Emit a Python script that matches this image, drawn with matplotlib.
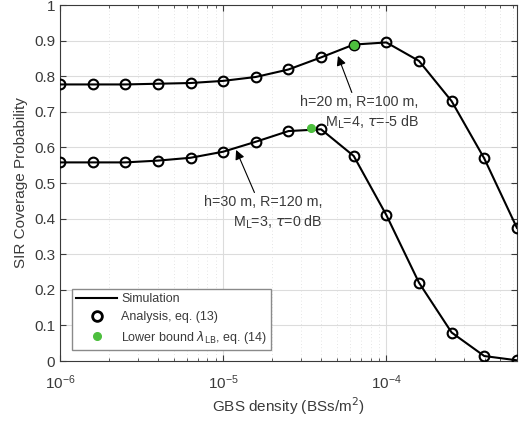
import numpy as np
import matplotlib
matplotlib.use('Agg')
import matplotlib.pyplot as plt
from matplotlib.ticker import LogLocator, NullFormatter

# GBS density grid, 10^-6 ... 10^-3.2
density = 10.0 ** np.array([-6.0, -5.8, -5.6, -5.4, -5.2, -5.0, -4.8, -4.6,
                            -4.4, -4.2, -4.0, -3.8, -3.6, -3.4, -3.2])

cov_h20 = [0.777, 0.777, 0.777, 0.779, 0.781, 0.787, 0.798, 0.819,
           0.853, 0.889, 0.895, 0.843, 0.730, 0.569, 0.374]
cov_h30 = [0.558, 0.558, 0.558, 0.563, 0.571, 0.588, 0.616, 0.646,
           0.651, 0.576, 0.410, 0.220, 0.080, 0.014, 0.002]

lb_density = [6.31e-5, 3.46e-5]
lb_cov = [0.889, 0.655]

y_ticks = [0, 0.1, 0.2, 0.3, 0.4, 0.5, 0.6, 0.7, 0.8, 0.9, 1.0]
y_labels = ['0', '0.1', '0.2', '0.3', '0.4', '0.5', '0.6', '0.7', '0.8', '0.9', '1']

txt = '#3a3a3a'
green = '#4dbf3e'

plt.rcParams['font.family'] = ['Liberation Sans', 'DejaVu Sans']
plt.rcParams['mathtext.fontset'] = 'dejavusans'

fig = plt.figure(figsize=(5.28, 4.22), dpi=100)
ax = fig.add_axes([0.1136, 0.1445, 0.8654, 0.8435])

for cov in (cov_h20, cov_h30):
    ax.plot(density, cov, color='black', lw=1.5, zorder=3)
    ax.plot(density, cov, ls='none', marker='o', ms=7, mfc='none',
            mec='black', mew=1.5, zorder=4)
ax.plot(lb_density, lb_cov, ls='none', marker='o', ms=5.5, color=green,
        zorder=5)

# legend proxies
h_sim, = ax.plot([], [], color='black', lw=1.5)
h_ana, = ax.plot([], [], ls='none', marker='o', ms=7, mfc='none',
                 mec='black', mew=2)
h_lb, = ax.plot([], [], ls='none', marker='o', ms=5.5, color=green)
leg = ax.legend([h_sim, h_ana, h_lb],
                ['Simulation', 'Analysis, eq. (13)',
                 r'Lower bound $\lambda_{\mathrm{LB}}$, eq. (14)'],
                loc='lower left', bbox_to_anchor=(0.026, 0.031),
                borderaxespad=0, fontsize=9, fancybox=False, framealpha=1,
                edgecolor='#8a8a8a', handlelength=3.3, borderpad=0.35,
                labelspacing=0.45, handletextpad=0.3)
leg.get_frame().set_linewidth(1.0)
for t in leg.get_texts():
    t.set_color(txt)

ax.annotate('h=20 m, R=100 m,\nM$_\\mathrm{L}$=4, $\\tau$=-5 dB',
            xy=(5.05e-5, 0.857), xytext=(1.58e-4, 0.697),
            ha='right', va='center', multialignment='right',
            fontsize=10.3, color=txt, linespacing=1.3,
            arrowprops=dict(arrowstyle='-|>', color='black', lw=0.8,
                            mutation_scale=14, shrinkA=0, shrinkB=0),
            zorder=6)
ax.annotate('h=30 m, R=120 m,\nM$_\\mathrm{L}$=3, $\\tau$=0 dB',
            xy=(1.2e-5, 0.593), xytext=(4.06e-5, 0.416),
            ha='right', va='center', multialignment='right',
            fontsize=10.3, color=txt, linespacing=1.3,
            arrowprops=dict(arrowstyle='-|>', color='black', lw=0.8,
                            mutation_scale=14, shrinkA=0, shrinkB=0),
            zorder=6)

ax.set_xscale('log')
ax.set_xlim(1e-6, 10 ** -3.2)
ax.set_ylim(0, 1)
ax.set_yticks(y_ticks)
ax.set_yticklabels(y_labels)
ax.xaxis.set_major_locator(LogLocator(base=10, numticks=10))
ax.xaxis.set_minor_locator(LogLocator(base=10, subs=np.arange(2, 10), numticks=20))
ax.xaxis.set_minor_formatter(NullFormatter())

ax.grid(True, which='major', color='#dcdcdc', lw=0.8)
ax.grid(True, which='minor', axis='x', color='#dcdcdc', lw=0.6, ls=(0, (1, 3)))
ax.set_axisbelow(True)

ax.tick_params(which='both', direction='in', top=True, right=True,
               labelsize=11, colors=txt)
ax.tick_params(which='major', length=4)
ax.tick_params(which='minor', length=2.5)
ax.tick_params(axis='x', pad=9)
for s in ax.spines.values():
    s.set_color(txt)
    s.set_linewidth(0.8)

ax.set_xlabel('GBS density (BSs/m$^2$)', fontsize=11, color=txt, labelpad=2)
ax.set_ylabel('SIR Coverage Probability', fontsize=11, color=txt)

fig.savefig('out.png', dpi=100)
